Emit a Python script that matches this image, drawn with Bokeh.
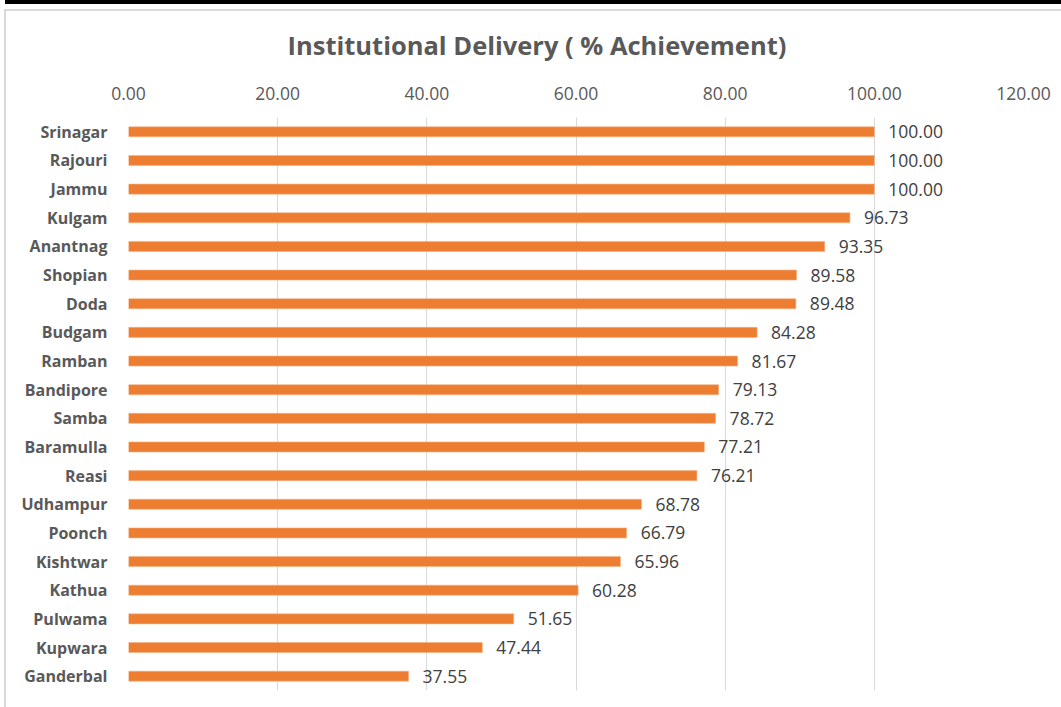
from bokeh.plotting import figure
from bokeh.models import (ColumnDataSource, FactorRange, Range1d, FixedTicker,
                          NumeralTickFormatter, Title, InlineStyleSheet)
from bokeh.core.properties import value
from bokeh.embed import file_html
from bokeh.resources import INLINE

districts = ["Srinagar", "Rajouri", "Jammu", "Kulgam", "Anantnag", "Shopian", "Doda",
             "Budgam", "Ramban", "Bandipore", "Samba", "Baramulla", "Reasi", "Udhampur",
             "Poonch", "Kishtwar", "Kathua", "Pulwama", "Kupwara", "Ganderbal"]
achievement = [100.00, 100.00, 100.00, 96.73, 93.35, 89.58, 89.48, 84.28, 81.67, 79.13,
               78.72, 77.21, 76.21, 68.78, 66.79, 65.96, 60.28, 51.65, 47.44, 37.55]
x_ticks = [0, 20, 40, 60, 80, 100, 120]

FONT = "Open Sans"
src = ColumnDataSource(dict(district=districts, val=achievement,
                            label=[f"{v:.2f}" for v in achievement]))

frame_css = InlineStyleSheet(css="""
:host::before { content: ""; position: absolute; left: 5px; top: 0; right: 0; height: 4px;
  background: #000000; z-index: 10; pointer-events: none; }
:host::after { content: ""; position: absolute; left: 4px; top: 9px; right: 0; bottom: 0;
  border-left: 2px solid #d9d9d9; border-top: 2px solid #d9d9d9; box-sizing: border-box;
  z-index: 10; pointer-events: none; }
""")

p = figure(width=1061, height=707, output_backend="svg", toolbar_location=None,
           x_range=Range1d(0, 120), y_range=FactorRange(factors=list(reversed(districts))),
           x_axis_location="above", min_border_left=128, min_border_right=38,
           min_border_top=117, min_border_bottom=17, stylesheets=[frame_css])
p.outline_line_color = None
p.background_fill_color = "white"
p.border_fill_color = "white"

p.hbar(y="district", right="val", left=0, height=0.35, source=src,
       color="#ED7D31", line_color="#F4B183", line_width=0.6)
p.text(x="val", y="district", text="label", source=src, x_offset=14,
       text_align="left", text_baseline="middle", text_font=value(FONT),
       text_font_size="17.5px", text_color="#404040")

t = Title(text="Institutional Delivery ( % Achievement)", align="left", offset=159,
          text_font=FONT, text_font_size="25.5px", text_font_style="bold",
          text_color="#595959", padding=(0, 0, 0, 17))
p.add_layout(t, "above")

xa = p.xaxis[0]
xa.ticker = FixedTicker(ticks=x_ticks)
xa.formatter = NumeralTickFormatter(format="0.00")
xa.axis_line_color = None
xa.major_tick_line_color = None
xa.minor_tick_line_color = None
xa.major_label_standoff = 12
xa.major_label_text_font = FONT
xa.major_label_text_font_size = "17.5px"
xa.major_label_text_color = "#595959"

ya = p.yaxis[0]
ya.axis_line_color = None
ya.major_tick_line_color = None
ya.minor_tick_line_color = None
ya.major_label_standoff = 15
ya.major_label_text_font = FONT
ya.major_label_text_font_size = "16px"
ya.major_label_text_font_style = "bold"
ya.major_label_text_color = "#595959"

p.xgrid.grid_line_color = "#d9d9d9"
p.xgrid.grid_line_width = 1
p.ygrid.grid_line_color = None

open("out.html", "w").write(file_html(p, INLINE))
